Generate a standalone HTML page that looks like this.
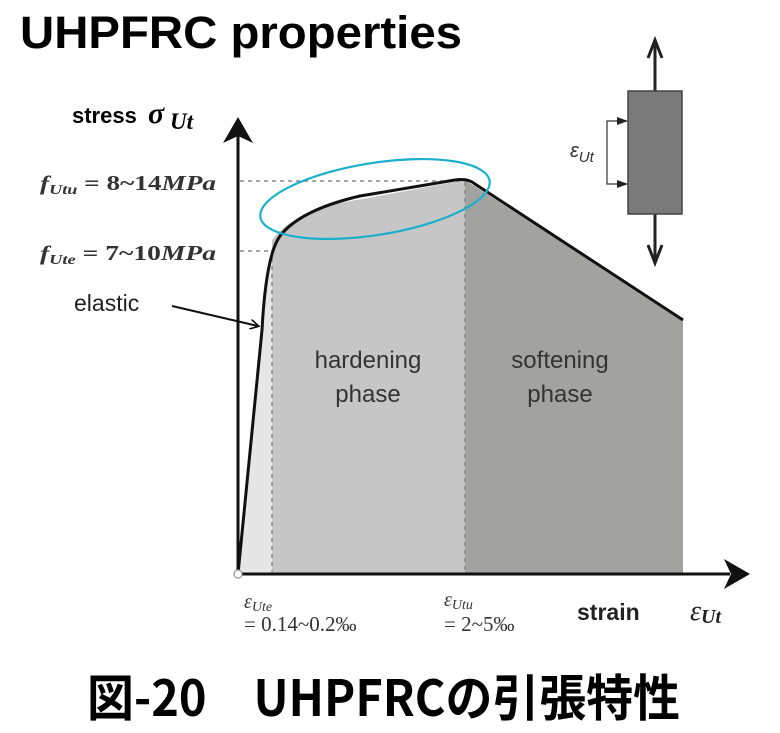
<!DOCTYPE html>
<html><head><meta charset="utf-8"><style>
html,body{margin:0;padding:0;background:#fff;width:780px;height:733px;overflow:hidden}
svg{display:block}
text{font-family:"Liberation Sans","Noto Sans CJK JP",sans-serif}
.s{font-family:"Liberation Serif","DejaVu Serif",serif;font-style:italic}
</style></head><body>
<svg width="780" height="733" viewBox="0 0 780 733" xmlns="http://www.w3.org/2000/svg">
<defs>
<marker id="ah" markerWidth="10" markerHeight="10" refX="8" refY="5" orient="auto" markerUnits="userSpaceOnUse"><path d="M0,0 L9,5 L0,10" fill="none" stroke="#111" stroke-width="1.6"/></marker>
</defs>
<text x="20" y="48" font-size="45" font-weight="bold" textLength="442" lengthAdjust="spacingAndGlyphs">UHPFRC properties</text>

<!-- regions -->
<path d="M238,574 L262,330 L272,245 L272,574 Z" fill="#e6e6e6"/>
<path d="M272,574 L272,240 Q290,215 340,203 L465,180 L465,574 Z" fill="#c6c6c6"/>
<path d="M465,180 L683,320 L683,574 L465,574 Z" fill="#a2a2a0"/>
<!-- dashed -->
<g stroke="#888" stroke-width="1.5" stroke-dasharray="4,4" fill="none">
<line x1="240" y1="181" x2="465" y2="181"/>
<line x1="240" y1="251" x2="270" y2="251"/>
<line x1="272" y1="250" x2="272" y2="572"/>
<line x1="465" y1="182" x2="465" y2="572"/>
</g>
<!-- curve -->
<path d="M238,574 L262,330 Q266,255 280,236 Q300,210 360,196 L455,180 Q468,178 475,184 L683,320" fill="none" stroke="#111" stroke-width="3"/>
<!-- axes -->
<line x1="238" y1="576" x2="238" y2="135" stroke="#111" stroke-width="3"/>
<path d="M238,117 L223,143 L238,136 L253,143 Z" fill="#111"/>
<line x1="236" y1="574" x2="730" y2="574" stroke="#111" stroke-width="3"/>
<path d="M750,574 L724,559 L731,574 L724,589 Z" fill="#111"/>
<circle cx="238" cy="574" r="4" fill="#fff" stroke="#999" stroke-width="1.2"/>
<!-- ellipse -->
<ellipse cx="375" cy="199" rx="116" ry="36" transform="rotate(-9 375 199)" fill="none" stroke="#1ab0cc" stroke-width="2.2"/>
<!-- labels -->
<text x="72" y="123" font-size="22" font-weight="bold">stress</text>
<text x="148" y="123" font-size="30" class="s" font-weight="bold">σ</text>
<text x="170" y="129" font-size="23" class="s" font-weight="bold">Ut</text>
<text x="40" y="190" font-size="21" class="s" font-weight="bold" fill="#333" textLength="176" lengthAdjust="spacingAndGlyphs">f<tspan font-size="14" dy="4">Utu</tspan><tspan dy="-4" font-style="normal"> = 8~14</tspan>MPa</text>
<text x="40" y="260" font-size="21" class="s" font-weight="bold" fill="#333" textLength="176" lengthAdjust="spacingAndGlyphs">f<tspan font-size="14" dy="4">Ute</tspan><tspan dy="-4" font-style="normal"> = 7~10</tspan>MPa</text>
<text x="74" y="311" font-size="23" fill="#222">elastic</text>
<line x1="172" y1="306" x2="258" y2="326" stroke="#111" stroke-width="2" marker-end="url(#ah)"/>
<text x="368" y="368" font-size="24" fill="#333" text-anchor="middle">hardening</text>
<text x="368" y="402" font-size="24" fill="#333" text-anchor="middle">phase</text>
<text x="560" y="368" font-size="24" fill="#333" text-anchor="middle">softening</text>
<text x="560" y="402" font-size="24" fill="#333" text-anchor="middle">phase</text>
<text x="244" y="608" font-size="20" class="s" fill="#333">ε<tspan font-size="14" dy="3">Ute</tspan></text>
<text x="244" y="631" font-size="21" fill="#333" style="font-family:'Liberation Serif',serif">= 0.14~0.2‰</text>
<text x="444" y="606" font-size="20" class="s" fill="#333">ε<tspan font-size="14" dy="3">Utu</tspan></text>
<text x="444" y="631" font-size="21" fill="#333" style="font-family:'Liberation Serif',serif">= 2~5‰</text>
<text x="577" y="620" font-size="23" font-weight="bold" fill="#222">strain</text>
<text x="690" y="620" font-size="28" class="s" fill="#222">ε<tspan font-size="20" dy="3" font-weight="bold">Ut</tspan></text>
<!-- specimen -->
<line x1="655" y1="91" x2="655" y2="44" stroke="#222" stroke-width="3"/>
<path d="M648,58 L655,40 L662,58" fill="none" stroke="#222" stroke-width="3"/>
<line x1="655" y1="214" x2="655" y2="259" stroke="#222" stroke-width="3"/>
<path d="M648,245 L655,263 L662,245" fill="none" stroke="#222" stroke-width="3"/>
<rect x="628" y="91" width="54" height="123" fill="#7a7a7a" stroke="#444" stroke-width="1.5"/>
<path d="M627,121 L607,121 L607,184 L627,184" fill="none" stroke="#333" stroke-width="1.2"/>
<path d="M628,121 L617,117 L617,125 Z M628,184 L617,180 L617,188 Z" fill="#222"/>
<text x="570" y="157" font-size="20" fill="#333" font-style="italic">ε<tspan font-size="15" dy="5">Ut</tspan></text>
<!-- caption -->
<text x="87" y="716" font-size="50" font-weight="bold" style="font-family:'Noto Sans CJK JP','Liberation Sans',sans-serif" textLength="593" lengthAdjust="spacingAndGlyphs">図-20　UHPFRCの引張特性</text>
</svg>
</body></html>
